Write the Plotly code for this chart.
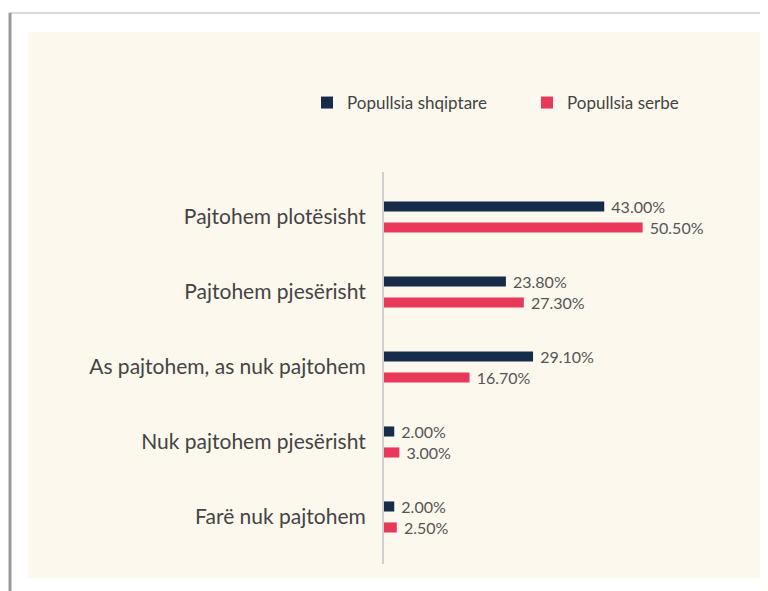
import plotly.graph_objects as go

categories = [
    "Pajtohem plotësisht",
    "Pajtohem pjesërisht",
    "As pajtohem, as nuk pajtohem",
    "Nuk pajtohem pjesërisht",
    "Farë nuk pajtohem",
]
albanian = [43.00, 23.80, 29.10, 2.00, 2.00]
serbian = [50.50, 27.30, 16.70, 3.00, 2.50]
series_names = ["Popullsia shqiptare", "Popullsia serbe"]

OFF = 8  # page body margin
W, H = 768 - OFF, 591 - OFF
L = 384 - OFF
T = 172 - OFF
plot_right = 720 - OFF
plot_bottom = 564 - OFF
R = W - plot_right
B = H - plot_bottom
pw, ph = W - L - R, H - T - B

def px(x):
    return (x - OFF - L) / pw

def py(y):
    return (H - B - (y - OFF)) / ph

fig = go.Figure()
for name, vals, col in [(series_names[0], albanian, "#172B4A"), (series_names[1], serbian, "#E8395A")]:
    fig.add_trace(go.Bar(
        y=categories, x=vals, name=name, orientation="h",
        marker=dict(color=col, line=dict(width=0)),
        text=vals, texttemplate=" %{x:.2f}%", textposition="outside",
        textfont=dict(family="Lato", size=16, color="#555555"),
        cliponaxis=False, constraintext="none",
        hoverinfo="skip",
    ))

shapes = [
    dict(type="rect", xref="paper", yref="paper", x0=px(28), x1=px(761), y0=py(578), y1=py(32),
         fillcolor="#FCF8EE", line=dict(width=0), layer="below"),
    dict(type="line", xref="paper", yref="paper", x0=px(9), x1=px(768), y0=py(13), y1=py(13),
         line=dict(color="#DADADA", width=2), layer="below"),
    dict(type="line", xref="paper", yref="paper", x0=px(10), x1=px(10), y0=py(591), y1=py(13),
         line=dict(color="#9A9A9A", width=3), layer="below"),
]

fig.update_layout(
    width=W, height=H,
    margin=dict(l=L, r=R, t=T, b=B, pad=0),
    paper_bgcolor="#FFFFFF", plot_bgcolor="rgba(0,0,0,0)",
    barmode="group", bargap=0.44, bargroupgap=0.52,
    font=dict(family="Lato", color="#444444"),
    shapes=shapes,
    showlegend=True,
    legend=dict(orientation="h", x=px(307), xanchor="left", y=py(103), yanchor="middle",
                font=dict(family="Lato", size=17, color="#444444"),
                entrywidth=175, bgcolor="rgba(0,0,0,0)", traceorder="normal"),
    xaxis=dict(range=[0, 65.6], visible=False, fixedrange=True),
    yaxis=dict(categoryorder="array", categoryarray=categories, range=[4.627, -0.6],
               showline=True, linecolor="#D0D0D0", linewidth=2, showgrid=False, zeroline=False,
               ticks="", ticklabelstandoff=12,
               tickfont=dict(family="Lato", size=21, color="#444444")),
)

fig.write_html("out.html")
